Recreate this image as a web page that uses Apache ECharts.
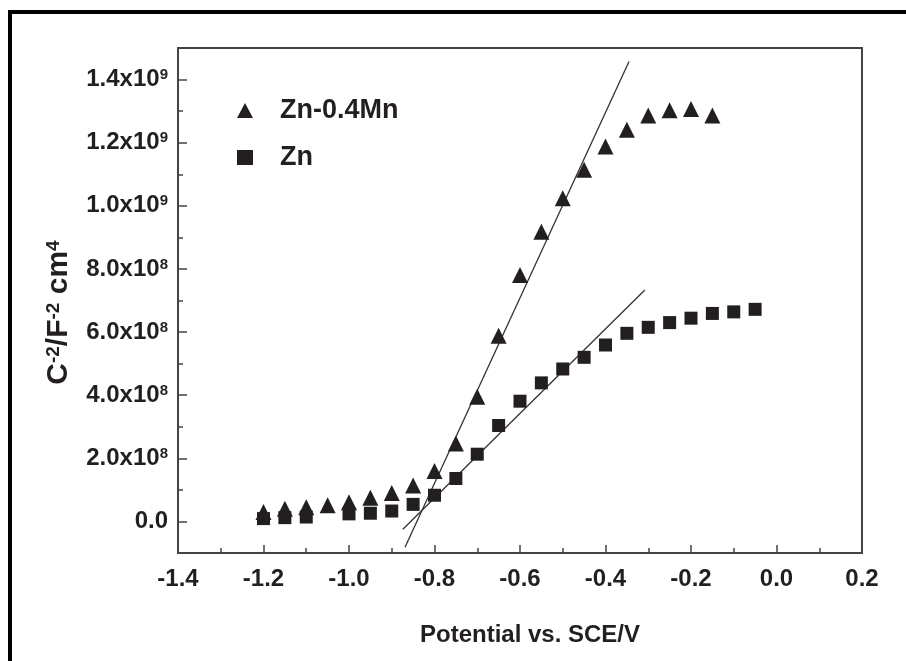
<!DOCTYPE html>
<html>
<head>
<meta charset="utf-8">
<script src="https://cdn.jsdelivr.net/npm/echarts@6/dist/echarts.min.js"></script>
<style>html,body{margin:0;padding:0;background:#fff;}#c{width:906px;height:661px;}</style>
</head>
<body>
<div id="c"></div>
<script>
// ---- data ----
var potMn = [-1.2,-1.15,-1.1,-1.05,-1.0,-0.95,-0.9,-0.85,-0.8,-0.75,-0.7,-0.65,-0.6,-0.55,-0.5,-0.45,-0.4,-0.35,-0.3,-0.25,-0.2,-0.15];
var valMn = [0.30e8,0.40e8,0.45e8,0.51e8,0.61e8,0.75e8,0.90e8,1.14e8,1.60e8,2.47e8,3.95e8,5.88e8,7.81e8,9.18e8,10.24e8,11.14e8,11.88e8,12.41e8,12.86e8,13.03e8,13.07e8,12.86e8];
var potZn = [-1.2,-1.15,-1.1,-1.0,-0.95,-0.9,-0.85,-0.8,-0.75,-0.7,-0.65,-0.6,-0.55,-0.5,-0.45,-0.4,-0.35,-0.3,-0.25,-0.2,-0.15,-0.1,-0.05];
var valZn = [0.09e8,0.12e8,0.14e8,0.24e8,0.26e8,0.33e8,0.54e8,0.83e8,1.36e8,2.13e8,3.04e8,3.81e8,4.39e8,4.83e8,5.20e8,5.59e8,5.96e8,6.15e8,6.30e8,6.44e8,6.59e8,6.64e8,6.72e8];
var fitMnX = [-0.869, -0.345];
var fitMnY = [-0.82e8, 14.57e8];
var fitZnX = [-0.874, -0.308];
var fitZnY = [-0.25e8, 7.33e8];
var seriesNames = ['Zn-0.4Mn', 'Zn'];
var xTickLabels = ['-1.4','-1.2','-1.0','-0.8','-0.6','-0.4','-0.2','0.0','0.2'];
var yTickValues = [0, 2e8, 4e8, 6e8, 8e8, 10e8, 12e8, 14e8];
var yTickLabels = ['0.0','2.0x10^8','4.0x10^8','6.0x10^8','8.0x10^8','1.0x10^9','1.2x10^9','1.4x10^9'];
var yMinorValues = [-1e8, 1e8, 3e8, 5e8, 7e8, 9e8, 11e8, 13e8, 15e8];

function pairs(xs, ys) { return xs.map(function (x, i) { return [x, ys[i]]; }); }

var txt = '#231f20';
var axisCol = '#444';
var font = 'Liberation Sans, Arial, sans-serif';

var chart = echarts.init(document.getElementById('c'), null, {renderer: 'canvas'});
chart.setOption({
  backgroundColor: '#fff',
  animation: false,
  graphic: [{
    type: 'rect', silent: true,
    shape: {x: 10, y: 12, width: 1000, height: 1000},
    style: {fill: 'none', stroke: '#000', lineWidth: 4}
  }],
  grid: {left: 178, right: 44, top: 48, bottom: 108, show: true, borderColor: axisCol, borderWidth: 2},
  legend: {
    orient: 'vertical', left: 232, top: 92, itemGap: 20,
    itemWidth: 16, itemHeight: 15,
    data: seriesNames,
    textStyle: {fontFamily: font, fontWeight: 'bold', fontSize: 27, color: txt, padding: [0, 0, 0, 22]}
  },
  xAxis: {
    type: 'value', min: -1.4, max: 0.2, interval: 0.2,
    axisLine: {show: true, onZero: false, lineStyle: {color: axisCol, width: 2}},
    axisTick: {show: true, inside: true, length: 8, lineStyle: {color: axisCol, width: 1.5}},
    minorTick: {show: true, splitNumber: 2, length: 5, lineStyle: {color: axisCol, width: 1.5}},
    splitLine: {show: false},
    axisLabel: {
      margin: 14, fontFamily: font, fontWeight: 'bold', fontSize: 24, color: txt,
      formatter: function (v) { return xTickLabels[Math.round((v + 1.4) / 0.2)]; }
    },
    name: 'Potential vs. SCE/V', nameLocation: 'middle', nameGap: 70,
    nameTextStyle: {fontFamily: font, fontWeight: 'bold', fontSize: 24, color: txt, padding: [0, 0, 0, 20]}
  },
  yAxis: [{
    type: 'value', min: -1e8, max: 1.5e9, interval: 1e8,
    axisLine: {show: true, onZero: false, lineStyle: {color: axisCol, width: 2}},
    axisTick: {show: true, inside: true, length: 9, customValues: yTickValues, lineStyle: {color: axisCol, width: 1.5}},
    splitLine: {show: false},
    axisLabel: {
      margin: 10, customValues: yTickValues,
      formatter: function (v) {
        var idx = yTickValues.indexOf(v);
        var s = idx >= 0 ? yTickLabels[idx] : '';
        var p = s.split('^');
        return p.length > 1 ? '{m|' + p[0] + '}{s|' + p[1] + '}' : '{m|' + p[0] + '}';
      },
      rich: {
        m: {fontFamily: font, fontWeight: 'bold', fontSize: 24, color: txt},
        s: {fontFamily: font, fontWeight: 'bold', fontSize: 15, color: txt, verticalAlign: 'top'}
      }
    },
    name: '{m|C}{s|-2}{m|/F}{s|-2}{m| cm}{s|4}', nameLocation: 'middle', nameGap: 104, nameRotate: 90,
    nameTextStyle: {
      padding: [0, 24, 0, 0],
      rich: {
        m: {fontFamily: font, fontWeight: 'bold', fontSize: 30, color: txt},
        s: {fontFamily: font, fontWeight: 'bold', fontSize: 19, color: txt, verticalAlign: 'top'}
      }
    }
  }, {
    type: 'value', min: -1e8, max: 1.5e9, interval: 1e8, position: 'left', offset: 0,
    axisLine: {show: false, onZero: false},
    axisTick: {show: true, inside: true, length: 5, customValues: yMinorValues, lineStyle: {color: axisCol, width: 1.5}},
    axisLabel: {show: false},
    splitLine: {show: false}
  }],
  series: [{
    name: seriesNames[0], type: 'scatter', symbol: 'triangle', symbolSize: 16,
    itemStyle: {color: txt, opacity: 1}, data: pairs(potMn, valMn), z: 3
  }, {
    name: seriesNames[1], type: 'scatter', symbol: 'rect', symbolSize: 13,
    itemStyle: {color: txt, opacity: 1}, data: pairs(potZn, valZn), z: 3
  }, {
    name: 'fitMn', type: 'line', data: pairs(fitMnX, fitMnY), showSymbol: false, symbol: 'none',
    lineStyle: {color: '#333', width: 1.3}, z: 2
  }, {
    name: 'fitZn', type: 'line', data: pairs(fitZnX, fitZnY), showSymbol: false, symbol: 'none',
    lineStyle: {color: '#333', width: 1.3}, z: 2
  }]
});
</script>
</body>
</html>
